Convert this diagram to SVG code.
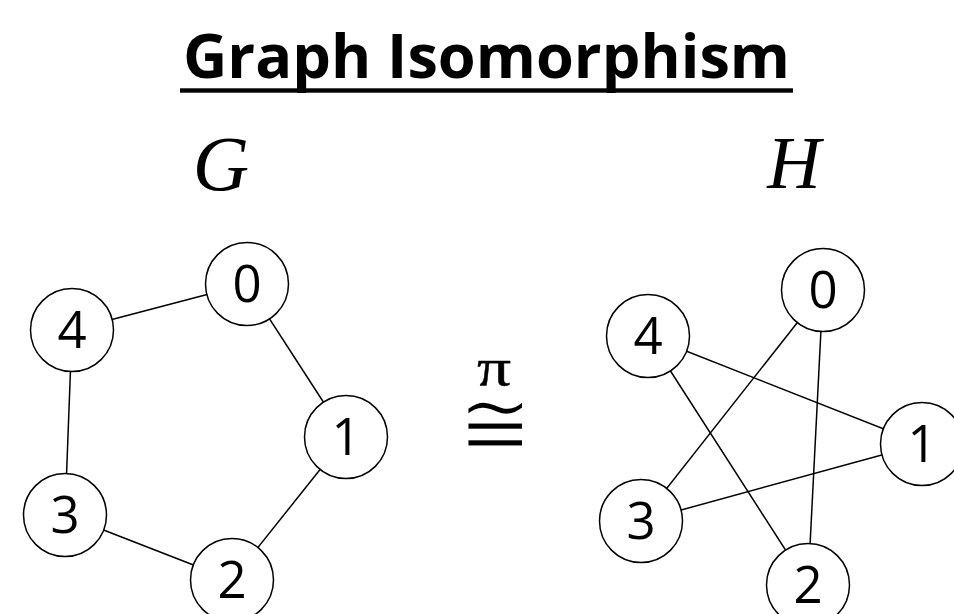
<svg xmlns="http://www.w3.org/2000/svg" width="954" height="614" viewBox="0 0 954 614">
<style>
.n circle{fill:#fff;stroke:#000;stroke-width:1.5}
.n text{font-family:"Open Sans",sans-serif;font-size:51px;text-anchor:middle;fill:#000}
.e line{stroke:#000;stroke-width:1.5}
.m{font-family:"Liberation Serif",serif;font-style:italic;fill:#000}
</style>
<rect width="954" height="614" fill="#fff"/>
<g id="title">
<text x="183" y="77.5" font-family="Open Sans, sans-serif" font-weight="bold" font-size="61" textLength="607" lengthAdjust="spacingAndGlyphs">Graph Isomorphism</text>
<rect x="180" y="88.3" width="613" height="4.4" fill="#000"/>
</g>
<text id="labelG" class="m" x="221" y="190" font-size="78" text-anchor="middle">G</text>
<text id="labelH" class="m" x="794" y="188" font-size="74" text-anchor="middle">H</text>
<g id="iso">
<text x="0" y="0" font-family="Liberation Serif, serif" font-size="52" text-anchor="middle" stroke="#000" stroke-width="0.4" transform="translate(494,385) scale(1.3,1)">π</text>
<text x="0" y="0" font-family="DejaVu Sans, sans-serif" font-size="80" text-anchor="middle" stroke="#fff" stroke-width="2.2" transform="translate(495,455) scale(1.12,1.15)">≅</text>
</g>
<g id="connectors" class="e">
<line x1="72" y1="330" x2="247" y2="284"/>
<line x1="247" y1="284" x2="346" y2="437"/>
<line x1="346" y1="437" x2="232" y2="580"/>
<line x1="232" y1="580" x2="65" y2="515"/>
<line x1="65" y1="515" x2="72" y2="330"/>
<line x1="648" y1="336" x2="922" y2="444"/>
<line x1="648" y1="336" x2="808" y2="585"/>
<line x1="823" y1="290" x2="641" y2="521"/>
<line x1="823" y1="290" x2="808" y2="585"/>
<line x1="641" y1="521" x2="922" y2="444"/>
</g>
<g id="G0" class="n"><circle cx="247" cy="284" r="41.5"/><text x="247" y="302">0</text></g>
<g id="G1" class="n"><circle cx="346" cy="437" r="41.5"/><text x="346" y="455">1</text></g>
<g id="G2" class="n"><circle cx="232" cy="580" r="41.5"/><text x="232" y="598">2</text></g>
<g id="G3" class="n"><circle cx="65" cy="515" r="41.5"/><text x="65" y="533">3</text></g>
<g id="G4" class="n"><circle cx="72" cy="330" r="41.5"/><text x="72" y="348">4</text></g>
<g id="H0" class="n"><circle cx="823" cy="290" r="41.5"/><text x="823" y="308">0</text></g>
<g id="H1" class="n"><circle cx="922" cy="444" r="41.5"/><text x="922" y="462">1</text></g>
<g id="H2" class="n"><circle cx="808" cy="585" r="41.5"/><text x="808" y="603">2</text></g>
<g id="H3" class="n"><circle cx="641" cy="521" r="41.5"/><text x="641" y="539">3</text></g>
<g id="H4" class="n"><circle cx="648" cy="336" r="41.5"/><text x="648" y="354">4</text></g>
</svg>
